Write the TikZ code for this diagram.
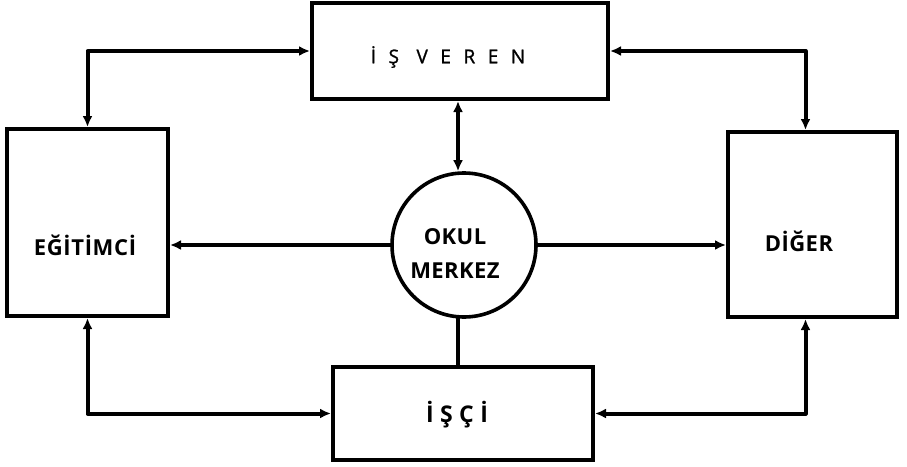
\documentclass[tikz,border=0pt]{standalone}
\usepackage{fontspec}
\setmainfont{Open Sans}
\usetikzlibrary{arrows.meta}
\begin{document}
\begin{tikzpicture}[x=1pt,y=-1pt,
  box/.style={draw, line width=4pt, rectangle, inner sep=0pt},
  hub/.style={draw, line width=3.6pt, circle, inner sep=0pt, minimum size=144pt},
  txt/.style={inner sep=0pt},
  link/.style={line width=4pt, line cap=round, line join=round},
  tip/.style={-{Latex[length=11pt,width=10pt]}},
  both/.style={{Latex[length=11pt,width=10pt]}-{Latex[length=11pt,width=10pt]}}]
  \useasboundingbox[fill=white] (0,0) rectangle (907,466);

  % boxes
  \node[box, minimum width=296pt, minimum height=96pt] (isveren) at (460,51) {};
  \node[box, minimum width=161pt, minimum height=187pt] (egitimci) at (87.5,222.5) {};
  \node[box, minimum width=169pt, minimum height=185pt] (diger) at (812.5,224.5) {};
  \node[box, minimum width=260pt, minimum height=93pt] (isci) at (463,413.5) {};
  \node[hub] (okul) at (464,245) {};

  % labels
  \node[txt, font=\fontsize{19}{22}\selectfont\addfontfeature{LetterSpace=66,FakeBold=1.2}] (tisveren) at (448,57) {İŞ VEREN};
  \node[txt, font=\fontsize{22}{24}\selectfont\bfseries\addfontfeature{LetterSpace=3}] (tegitimci) at (85,245) {EĞİTİMCİ};
  \node[txt, font=\fontsize{22}{24}\selectfont\bfseries\addfontfeature{LetterSpace=2}] (tdiger) at (799,241) {DİĞER};
  \node[txt, font=\fontsize{23}{26}\selectfont\bfseries\addfontfeature{LetterSpace=28}] (tisci) at (457,415) {İŞÇİ};
  \node[txt, align=center, font=\fontsize{22}{34}\selectfont\bfseries\addfontfeature{LetterSpace=2}] (tokul) at (455,254) {OKUL\\MERKEZ};

  % connectors
  \draw[link, both] (egitimci.north) |- (isveren.west);
  \draw[link, both] ([xshift=-7pt]diger.north) |- (isveren.east);
  \draw[link, both] ([xshift=-6pt]okul.north) -- ([xshift=-6pt]okul.north |- isveren.south);
  \draw[link] ([xshift=-6pt]okul.south) -- ([xshift=-6pt]okul.south |- isci.north);
  \draw[link, tip] (okul.west) -- (okul.west -| egitimci.east);
  \draw[link, tip] (okul.east) -- (okul.east -| diger.west);
  \draw[link, both] (egitimci.south) |- (isci.west);
  \draw[link, both] ([xshift=-7pt]diger.south) |- (isci.east);
\end{tikzpicture}
\end{document}
